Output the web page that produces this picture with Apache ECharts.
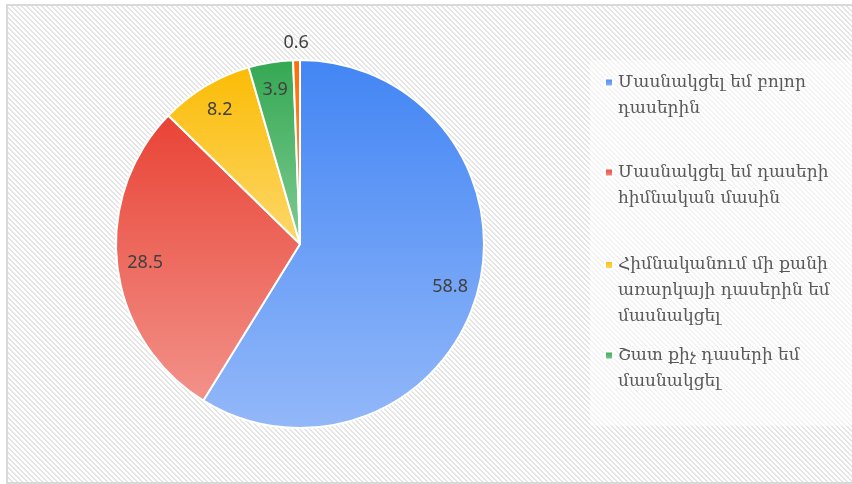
<!DOCTYPE html>
<html>
<head>
<meta charset="utf-8">
<script src="https://cdn.jsdelivr.net/npm/echarts@6/dist/echarts.min.js"></script>
<style>
  html, body { margin: 0; padding: 0; background: #fff; }
  #main { width: 852px; height: 484px; }
</style>
</head>
<body>
<div id="main"></div>
<script>
// data
var names = [
  'Մասնակցել եմ բոլոր դասերին',
  'Մասնակցել եմ դասերի հիմնական մասին',
  'Հիմնականում մի քանի առարկայի դասերին եմ մասնակցել',
  'Շատ քիչ դասերի եմ մասնակցել',
  'Չեմ մասնակցել'
];
var values = [58.8, 28.5, 8.2, 3.9, 0.6];
// legend text split into lines as in the picture
var legendLines = [
  ['Մասնակցել եմ բոլոր', 'դասերին'],
  ['Մասնակցել եմ դասերի', 'հիմնական մասին'],
  ['Հիմնականում մի քանի', 'առարկայի դասերին եմ', 'մասնակցել'],
  ['Շատ քիչ դասերի եմ', 'մասնակցել']
];
var colorsTop = ['#4285f4', '#e94335', '#fbbc05', '#34a853', '#ff6d00'];
var colorsBottom = ['#93b8f9', '#f2928a', '#fdd76a', '#7fcb93', '#ff9a52'];

var myChart = echarts.init(document.getElementById('main'));

// striped background
var pat = document.createElement('canvas');
pat.width = 5; pat.height = 5;
var pctx = pat.getContext('2d');
pctx.fillStyle = '#ffffff';
pctx.fillRect(0, 0, 5, 5);
pctx.fillStyle = '#e4e4e4';
for (var i = 0; i < 5; i++) {
  pctx.fillRect(i, i, 1, 1);
  pctx.fillRect((i + 1) % 5, i, 1, 1);
}

var cx = 300, cy = 244, R = 184;
var lineH = 26;
var iconCenters = [82.5, 172.5, 265, 355.5];

function grad(i) {
  return new echarts.graphic.LinearGradient(0, 0, 0, 1, [
    { offset: 0, color: colorsTop[i] },
    { offset: 1, color: colorsBottom[i] }
  ]);
}

var pieData = names.map(function (n, i) {
  return { name: n, value: values[i], itemStyle: { color: grad(i) } };
});

// one legend per entry so each block sits where the original has it
var legends = legendLines.map(function (lines, i) {
  var total = lines.length * 2 - 1;
  return {
    data: [names[i]],
    orient: 'vertical',
    left: 604,
    top: iconCenters[i] - (total * lineH) / 2,
    padding: 0,
    itemWidth: 8,
    itemHeight: 8,
    icon: 'rect',
    selectedMode: false,
    formatter: function () {
      var pre = [];
      for (var k = 1; k < lines.length; k++) pre.push(' ');
      return pre.concat(lines).join('\n');
    },
    textStyle: {
      fontFamily: 'DejaVu Serif',
      fontSize: 17,
      color: '#595959',
      lineHeight: lineH
    }
  };
});

var labelStyle = {
  fontFamily: 'Noto Sans',
  fontSize: 18,
  color: '#404040'
};

var option = {
  animation: false,
  graphic: [
    {
      type: 'rect', z: -10, silent: true,
      shape: { x: 7, y: 5, width: 860, height: 478 },
      style: { fill: { image: pat, repeat: 'repeat' }, stroke: '#d9d9d9', lineWidth: 2 }
    },
    {
      type: 'rect', z: -9, silent: true,
      shape: { x: 590, y: 60, width: 262, height: 366 },
      style: { fill: 'rgba(255,255,255,0.55)' }
    }
  ],
  legend: legends,
  series: [
    {
      type: 'pie',
      center: [cx, cy],
      radius: [0, R],
      startAngle: 90,
      clockwise: true,
      silent: true,
      label: { show: false },
      labelLine: { show: false },
      itemStyle: { borderColor: '#ffffff', borderWidth: 2 },
      data: pieData
    },
    {
      // transparent ring that only carries the inside labels
      type: 'pie',
      center: [cx, cy],
      radius: [122, R],
      startAngle: 90,
      silent: true,
      itemStyle: { color: 'rgba(0,0,0,0)' },
      label: Object.assign({ show: true, position: 'inside', rotate: 0, formatter: '{c}' }, labelStyle),
      labelLine: { show: false },
      data: names.map(function (n, i) {
        return { name: n, value: values[i], label: { show: i < 4 } };
      })
    },
    {
      // ring just outside the pie for the tiny slice label
      type: 'pie',
      center: [cx, cy],
      radius: [R, 212],
      startAngle: 90,
      silent: true,
      itemStyle: { color: 'rgba(0,0,0,0)' },
      label: Object.assign({ show: true, position: 'inside', rotate: 0, formatter: '{c}' }, labelStyle),
      labelLine: { show: false },
      data: names.map(function (n, i) {
        return { name: n, value: values[i], label: { show: i === 4 } };
      })
    }
  ]
};

myChart.setOption(option);
window.onresize = myChart.resize;
</script>
</body>
</html>
